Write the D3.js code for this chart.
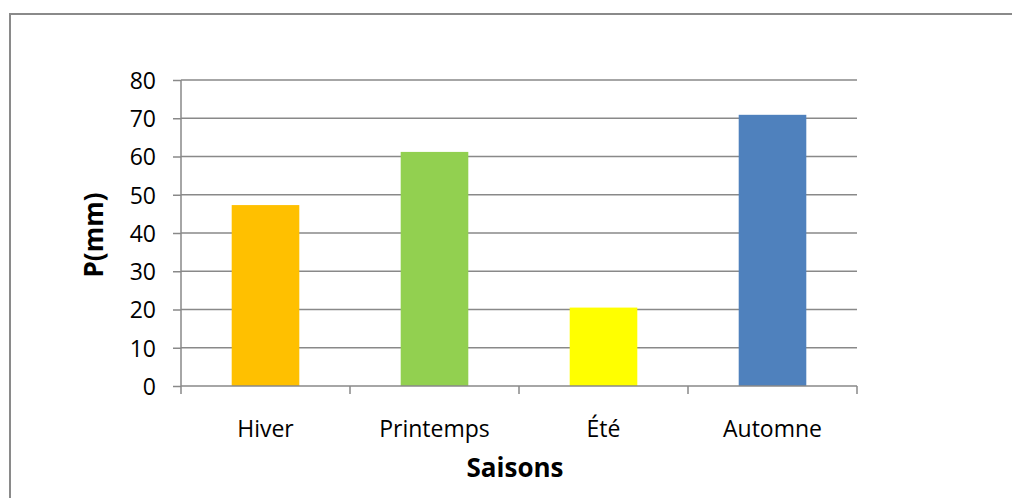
<!DOCTYPE html>
<html><head><meta charset="utf-8">
<script src="https://cdn.jsdelivr.net/npm/d3@7/dist/d3.min.js"></script>
<style>
html,body{margin:0;padding:0;background:#fff;}
svg{display:block;}
text{font-family:"Open Sans",sans-serif;fill:#000;}
</style></head>
<body>
<svg id="c" width="1012" height="498"></svg>
<script>
const categories = ["Hiver", "Printemps", "Été", "Automne"];
const values = [47.3, 61.2, 20.5, 70.9];
const colors = ["#FFC000", "#92D050", "#FFFF00", "#4F81BD"];
const yTicks = [0, 10, 20, 30, 40, 50, 60, 70, 80];
const xTitle = "Saisons";
const yTitle = "P(mm)";

const svg = d3.select("#c");
const W = 1012, H = 498;
const m = {left: 181, right: 857, top: 80, bottom: 386};

// outer frame
svg.append("rect").attr("x", 10).attr("y", 14).attr("width", W + 20).attr("height", H + 20)
  .attr("fill", "#fff").attr("stroke", "#8a8a8a").attr("stroke-width", 2);

const x = d3.scaleBand().domain(categories).range([m.left, m.right])
  .paddingInner(0.6).paddingOuter(0.3);
const y = d3.scaleLinear().domain([0, 80]).range([m.bottom, m.top]);

// gridlines
svg.append("g").selectAll("line").data(yTicks.filter(d => d > 0)).join("line")
  .attr("x1", m.left).attr("x2", m.right)
  .attr("y1", d => y(d)).attr("y2", d => y(d))
  .attr("stroke", "#898989").attr("stroke-width", 1.5);

// bars
svg.append("g").selectAll("rect").data(values).join("rect")
  .attr("x", (d, i) => x(categories[i]))
  .attr("width", x.bandwidth())
  .attr("y", d => y(d))
  .attr("height", d => y(0) - y(d))
  .attr("fill", (d, i) => colors[i]);

// y axis
const yAxis = d3.axisLeft(y).tickValues(yTicks).tickSize(8).tickPadding(17).tickFormat(d3.format("d"));
const gy = svg.append("g").attr("transform", `translate(${m.left},0)`).call(yAxis);
gy.select(".domain").attr("stroke", "#898989").attr("stroke-width", 1.5).attr("d", `M0,${m.top}V${m.bottom}`);
gy.selectAll(".tick line").attr("stroke", "#898989").attr("stroke-width", 1.5);
gy.selectAll(".tick text").style("font-family", '"Open Sans",sans-serif').style("font-size", "23px").attr("fill", "#000").attr("dy", "0.36em");

// x axis
const step = x.step();
const bounds = d3.range(categories.length + 1).map(i => m.left + i * step);
const gx = svg.append("g");
gx.append("line").attr("x1", m.left).attr("x2", m.right).attr("y1", m.bottom).attr("y2", m.bottom)
  .attr("stroke", "#898989").attr("stroke-width", 1.5);
gx.selectAll("line.t").data(bounds).join("line").attr("class", "t")
  .attr("x1", d => d).attr("x2", d => d).attr("y1", m.bottom).attr("y2", m.bottom + 8)
  .attr("stroke", "#898989").attr("stroke-width", 1.5);
gx.selectAll("text").data(categories).join("text")
  .attr("x", d => x(d) + x.bandwidth() / 2).attr("y", 437)
  .attr("text-anchor", "middle").style("font-size", "23px").text(d => d);

// titles
svg.append("text").attr("x", 515).attr("y", 477)
  .attr("text-anchor", "middle").style("font-size", "26px").style("font-weight", "bold").text(xTitle);
svg.append("text").attr("transform", `translate(103,${(m.top + m.bottom) / 2 + 2}) rotate(-90)`)
  .attr("text-anchor", "middle").style("font-size", "26px").style("font-weight", "bold").text(yTitle);
</script>
</body></html>
